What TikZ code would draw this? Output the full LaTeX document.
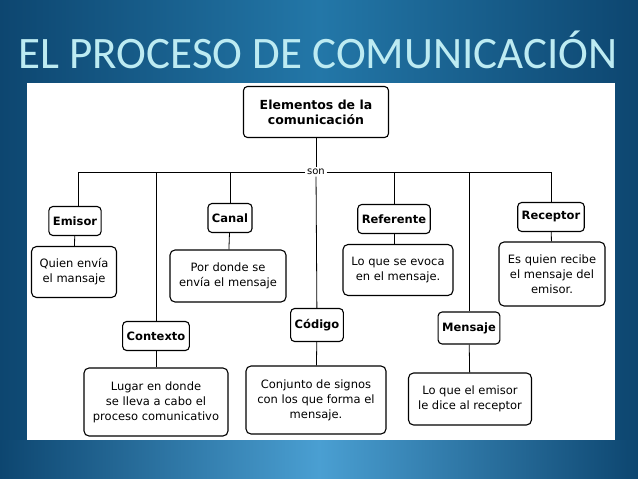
\documentclass[tikz,border=0pt]{standalone}
\usepackage{fontspec}
\setmainfont{DejaVu Sans}
\newfontfamily\titlefont{Carlito}
\definecolor{bgdark}{HTML}{0D4670}
\definecolor{bgmid}{HTML}{2377A8}
\definecolor{bglight}{HTML}{4A9FD2}
\definecolor{titlecol}{HTML}{BDEBF2}

\begin{document}
\begin{tikzpicture}[x=1pt,y=-1pt,
	head/.style={draw,rounded corners=4pt,line width=1.1pt,font=\bfseries\fontsize{11.5}{13}\selectfont,inner sep=4pt,minimum height=29pt},
	info/.style={draw,rounded corners=5pt,line width=1.1pt,font=\fontsize{11.5}{15}\selectfont,align=center,inner sep=3pt},
	link/.style={line width=.8pt}
	]
	\useasboundingbox (0,0) rectangle (638,479);
	% background
	\shade[left color=bgdark,right color=bgdark,middle color=bgmid] (0,0) rectangle (638,479);
	\shade[left color=bgdark,right color=bgdark,middle color=bglight] (0,440) rectangle (638,479);
	\fill[white] (27,83) rectangle (615,440);
	\node[text=titlecol,font=\titlefont\fontsize{45}{45}\selectfont] (title) at (318,50) {EL PROCESO DE COMUNICACIÓN};
	
	% top node and branch line
	\node[head,font=\bfseries\fontsize{12.5}{15}\selectfont,align=center,minimum width=145pt,minimum height=51pt] (elem) at (316,112) {Elementos de la\\comunicación};
	\node[font=\fontsize{10}{10}\selectfont,fill=white,inner sep=1.5pt] (son) at (316,172) {son};
	\coordinate (bl) at (78,172);
	\coordinate (br) at (551,172);
	\draw[link] (elem) -- (son);
	\draw[link] (bl) -- (son) -- (br);
	
	% first row
	\node[head] (emisor) at (75,221) {Emisor};
	\node[info,minimum width=85pt,minimum height=51pt] (emisorT) at (74,272) {Quien envía\\el mansaje};
	\node[head] (canal) at (230,218) {Canal};
	\node[info,minimum width=116pt,minimum height=52pt] (canalT) at (228,276) {Por donde se\\envía el mensaje};
	\node[head] (refer) at (394,219) {Referente};
	\node[info,minimum width=110pt,minimum height=51pt] (referT) at (398,270) {Lo que se evoca\\en el mensaje.};
	\node[head] (recep) at (551,217) {Receptor};
	\node[info,minimum width=106pt,minimum height=64pt] (recepT) at (552,274) {Es quien recibe\\el mensaje del\\emisor.};
	
	% second row
	\node[head] (contex) at (156,336) {Contexto};
	\node[info,minimum width=144pt,minimum height=68pt] (contexT) at (156,402) {Lugar en donde\\se lleva a cabo el\\proceso comunicativo};
	\node[head,minimum height=33pt] (codigo) at (317,325) {Código};
	\node[info,minimum width=140pt,minimum height=68pt] (codigoT) at (316,400) {Conjunto de signos\\con los que forma el\\mensaje.};
	\node[head,minimum height=32pt] (mensaje) at (469,328) {Mensaje};
	\node[info,minimum width=123pt,minimum height=52pt] (mensajeT) at (470,399) {Lo que el emisor\\le dice al receptor};
	
	% connectors
	\draw[link] (bl) -- (emisor.north -| bl);
	\draw[link] (emisor) -- (emisorT);
	\draw[link] (canal.north |- son) -- (canal);
	\draw[link] (canal) -- (canalT);
	\draw[link] (refer.north |- son) -- (refer);
	\draw[link] (refer.south) -- (refer.south |- referT.north);
	\draw[link] (br) -- (recep);
	\draw[link] (recep) -- (recepT);
	\draw[link] (contex.north |- son) -- (contex);
	\draw[link] (contex) -- (contexT);
	\draw[link] (son) -- (codigo);
	\draw[link] (codigo) -- (codigoT);
	\draw[link] (mensaje.north |- son) -- (mensaje);
	\draw[link] (mensaje) -- (mensajeT);
\end{tikzpicture}
\end{document}
